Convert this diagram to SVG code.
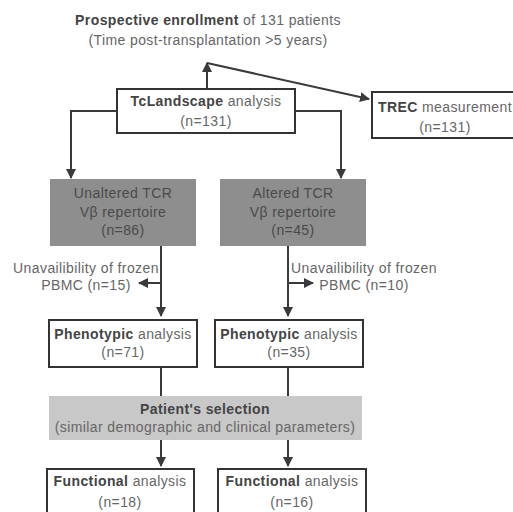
<svg xmlns="http://www.w3.org/2000/svg" width="513" height="512" viewBox="0 0 513 512">
<defs>
<marker id="ah" viewBox="0 0 10 10" refX="9" refY="5" markerWidth="5" markerHeight="5" orient="auto" markerUnits="strokeWidth">
<path d="M0,0 L10,5 L0,10 Z" fill="#3a3a3a"/>
</marker>
<style>
text{font-family:"Liberation Sans",Arial,sans-serif;font-size:14px;letter-spacing:0.4px;fill:#666;text-anchor:middle}
.b{font-weight:bold;fill:#444}
.box{fill:#fff;stroke:#333;stroke-width:2}
.dark{fill:#8e8e8e;stroke:none}
.dt{fill:#4a4a4a}
.light{fill:#c8c8c8;stroke:none}
.ln{fill:none;stroke:#3a3a3a;stroke-width:2}
.ar{marker-end:url(#ah)}
</style>
</defs>
<rect width="513" height="512" fill="#fff"/>

<g id="enroll">
<text x="208" y="25"><tspan class="b">Prospective enrollment</tspan> of 131 patients</text>
<text x="208" y="45">(Time post-transplantation &gt;5 years)</text>
</g>

<g id="connectors">
<path class="ln ar" d="M207,89 V63"/>
<path class="ln ar" d="M207,63 L369,99"/>
<path class="ln ar" d="M117,111 H71 V178"/>
<path class="ln ar" d="M295,111 H341 V178"/>
<path class="ln ar" d="M161,246 V316"/>
<path class="ln ar" d="M161,283 H139"/>
<path class="ln ar" d="M288,246 V316"/>
<path class="ln ar" d="M288,283 H313"/>
<path class="ln" d="M161,367 V396"/>
<path class="ln" d="M288,367 V396"/>
<path class="ln ar" d="M161,440 V466"/>
<path class="ln ar" d="M288,440 V466"/>
</g>

<g id="tclandscape">
<rect class="box" x="117" y="89" width="178" height="44"/>
<text x="206" y="106"><tspan class="b">TcLandscape</tspan> analysis</text>
<text x="206" y="126">(n=131)</text>
</g>

<g id="trec">
<rect class="box" x="372" y="92" width="150" height="46"/>
<text x="445" y="112"><tspan class="b">TREC</tspan> measurement</text>
<text x="445" y="132">(n=131)</text>
</g>

<g id="unaltered">
<rect class="dark" x="50" y="179" width="146" height="67"/>
<text class="dt" x="123" y="198">Unaltered TCR</text>
<text class="dt" x="123" y="217">Vβ repertoire</text>
<text class="dt" x="123" y="235">(n=86)</text>
</g>

<g id="altered">
<rect class="dark" x="220" y="179" width="146" height="67"/>
<text class="dt" x="293" y="198">Altered TCR</text>
<text class="dt" x="293" y="217">Vβ repertoire</text>
<text class="dt" x="293" y="235">(n=45)</text>
</g>

<g id="excl-left">
<text x="86" y="273">Unavailibility of frozen</text>
<text x="86" y="290">PBMC (n=15)</text>
</g>

<g id="excl-right">
<text x="364" y="273">Unavailibility of frozen</text>
<text x="364" y="290">PBMC (n=10)</text>
</g>

<g id="pheno-left">
<rect class="box" x="49" y="320" width="148" height="47"/>
<text x="123" y="339"><tspan class="b">Phenotypic</tspan> analysis</text>
<text x="123" y="357">(n=71)</text>
</g>

<g id="pheno-right">
<rect class="box" x="215" y="320" width="148" height="47"/>
<text x="289" y="339"><tspan class="b">Phenotypic</tspan> analysis</text>
<text x="289" y="357">(n=35)</text>
</g>

<g id="selection">
<rect class="light" x="49" y="396" width="313" height="44"/>
<text x="205" y="414" class="b">Patient's selection</text>
<text x="205" y="432">(similar demographic and clinical parameters)</text>
</g>

<g id="func-left">
<rect class="box" x="47" y="469" width="147" height="50"/>
<text x="120" y="486"><tspan class="b">Functional</tspan> analysis</text>
<text x="120" y="507">(n=18)</text>
</g>

<g id="func-right">
<rect class="box" x="218" y="469" width="148" height="50"/>
<text x="292" y="486"><tspan class="b">Functional</tspan> analysis</text>
<text x="292" y="507">(n=16)</text>
</g>
</svg>
